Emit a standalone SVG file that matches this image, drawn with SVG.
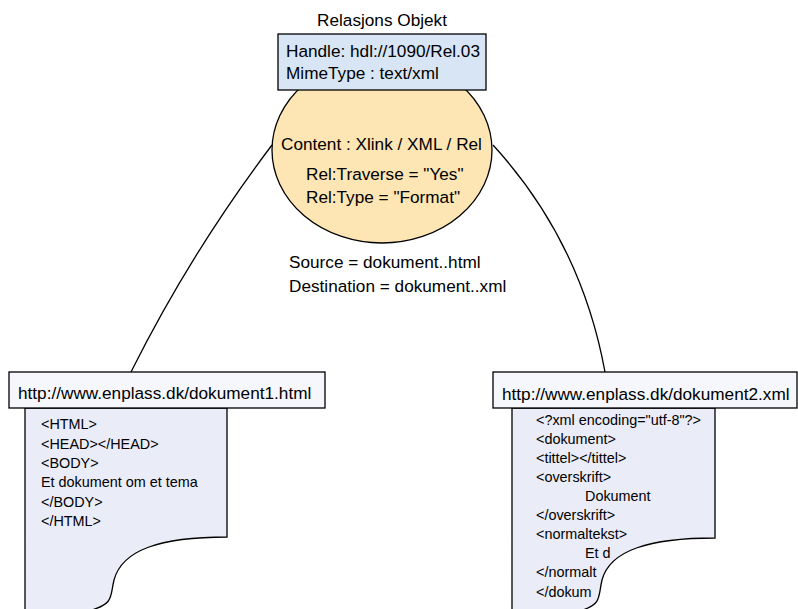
<svg xmlns="http://www.w3.org/2000/svg" width="798" height="609" viewBox="0 0 798 609">
  <style>
    text { font-family: "Liberation Sans", Arial, sans-serif; fill: #000; }
    .lbl { font-size: 17.2px; }
    .code { font-size: 14.4px; }
    .edge { fill: none; stroke: #000; stroke-width: 1.3; }
    .box { stroke: #000; stroke-width: 1.3; }
    .hdr { fill: #f5f7fd; }
    .body { fill: #eaecf8; }
  </style>

  <rect width="798" height="609" fill="#fff"/>

  <!-- links from the relation object to both documents -->
  <g id="connectors">
    <path class="edge" d="M272,145 Q191,252 131,372"/>
    <path class="edge" d="M493,145 Q581,241 605,372"/>
  </g>

  <!-- relation object: content ellipse with handle box on top -->
  <g id="relation-object">
    <text class="lbl" x="382" y="26" text-anchor="middle">Relasjons Objekt</text>
    <ellipse class="box" cx="382" cy="150" rx="110" ry="93" fill="#fde5b4"/>
    <text class="lbl" x="281" y="150">Content : Xlink / XML / Rel</text>
    <text class="lbl" x="306" y="180">Rel:Traverse = "Yes"</text>
    <text class="lbl" x="306" y="203">Rel:Type = "Format"</text>
    <rect class="box" x="278" y="34" width="208" height="56" fill="#d8e5f5"/>
    <text class="lbl" x="286" y="57">Handle: hdl://1090/Rel.03</text>
    <text class="lbl" x="286" y="79">MimeType : text/xml</text>
  </g>

  <g id="link-endpoints">
    <text class="lbl" x="289" y="268">Source = dokument..html</text>
    <text class="lbl" x="289" y="292">Destination = dokument..xml</text>
  </g>

  <!-- source document -->
  <g id="doc-html">
    <path class="box body" d="M25,408 L227,408 L227,537 C160,537 122,550 114,580 C110,597 114,603 92,610 L25,612 Z"/>
    <rect class="box hdr" x="9" y="372" width="316" height="36"/>
    <text class="lbl" x="18" y="399">http://www.enplass.dk/dokument1.html</text>
    <g class="code">
      <text x="41" y="429">&lt;HTML&gt;</text>
      <text x="41" y="449">&lt;HEAD&gt;&lt;/HEAD&gt;</text>
      <text x="41" y="468">&lt;BODY&gt;</text>
      <text x="41" y="487">Et dokument om et tema</text>
      <text x="41" y="507">&lt;/BODY&gt;</text>
      <text x="41" y="526">&lt;/HTML&gt;</text>
    </g>
  </g>

  <!-- destination document -->
  <g id="doc-xml">
    <path class="box body" d="M512,408 L715,408 L715,538 C650,538 610,550 602,580 C598,597 602,603 583,610 L512,612 Z"/>
    <rect class="box hdr" x="493" y="372" width="304" height="36"/>
    <text class="lbl" x="502" y="400">http://www.enplass.dk/dokument2.xml</text>
    <g class="code">
      <text x="536" y="425">&lt;?xml encoding="utf-8"?&gt;</text>
      <text x="536" y="444">&lt;dokument&gt;</text>
      <text x="536" y="463">&lt;tittel&gt;&lt;/tittel&gt;</text>
      <text x="536" y="482">&lt;overskrift&gt;</text>
      <text x="585" y="501">Dokument</text>
      <text x="536" y="520">&lt;/overskrift&gt;</text>
      <text x="536" y="539">&lt;normaltekst&gt;</text>
      <text x="585" y="558">Et d</text>
      <text x="536" y="577">&lt;/normalt</text>
      <text x="536" y="597">&lt;/dokum</text>
    </g>
  </g>
</svg>
